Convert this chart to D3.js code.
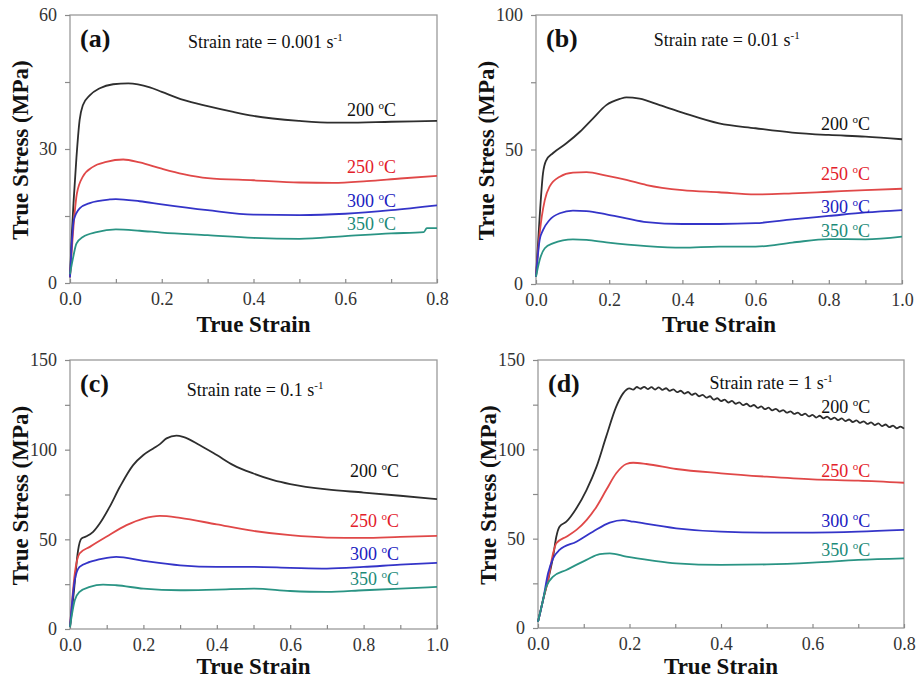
<!DOCTYPE html>
<html><head><meta charset="utf-8">
<script src="https://cdn.jsdelivr.net/npm/d3@7"></script>
<style>body{margin:0;background:#fff}svg{display:block}</style>
</head><body>
<script>
// ---------- DATA ----------
const temps = ["200", "250", "300", "350"];
const panelLetters = ["(a)", "(b)", "(c)", "(d)"];
const rateLabels = ["0.001", "0.01", "0.1", "1"];
const xMax = [0.8, 1.0, 1.0, 0.8];
const yMax = [60, 100, 150, 150];
const yMinorStep = [15, 25, 25, 25];
const yLabelStep = [30, 50, 50, 50];

const a200 = [[0,1.3],[0.004,11],[0.008,18.5],[0.014,28],[0.021,36.5],[0.028,39.8],[0.043,42],[0.065,43.6],[0.094,44.5],[0.127,44.7],[0.174,43.8],[0.2,42.8],[0.247,41],[0.3,39.6],[0.356,38.3],[0.4,37.4],[0.5,36.3],[0.574,35.9],[0.6,35.9],[0.7,36.1],[0.8,36.3]];
const a250 = [[0,1.3],[0.005,9],[0.01,15.5],[0.015,20],[0.028,23.8],[0.05,26],[0.079,27.1],[0.116,27.65],[0.152,27],[0.2,25.6],[0.247,24.4],[0.3,23.5],[0.4,23],[0.5,22.5],[0.574,22.4],[0.647,22.8],[0.72,23.4],[0.8,24]];
const a300 = [[0,1.3],[0.004,9],[0.008,14],[0.021,16.7],[0.043,17.9],[0.087,18.7],[0.1,18.8],[0.152,18.3],[0.2,17.6],[0.3,16.3],[0.4,15.3],[0.5,15.2],[0.6,15.5],[0.7,16.3],[0.8,17.4]];
const a350 = [[0,2.0],[0.007,5.8],[0.014,8.8],[0.028,10.3],[0.058,11.4],[0.1,12],[0.152,11.7],[0.2,11.3],[0.3,10.7],[0.4,10.1],[0.5,9.9],[0.6,10.5],[0.7,11.1],[0.771,11.4],[0.778,12.3],[0.8,12.3]];

const b200 = [[0,2.7],[0.01,25],[0.019,41],[0.028,46],[0.046,48.6],[0.083,52.3],[0.12,56.6],[0.156,61.6],[0.192,66.5],[0.229,68.8],[0.247,69.4],[0.283,68.9],[0.338,66.5],[0.4,63.7],[0.5,59.7],[0.6,57.9],[0.7,56.3],[0.8,55.4],[0.9,54.8],[1.0,53.8]];
const b250 = [[0,2.7],[0.01,18.8],[0.024,31.2],[0.037,36.2],[0.065,39.9],[0.101,41.4],[0.138,41.6],[0.192,40.3],[0.247,38.7],[0.302,36.8],[0.4,34.9],[0.5,34.1],[0.6,33.3],[0.7,33.7],[0.8,34.3],[0.9,34.9],[1.0,35.4]];
const b300 = [[0,2.7],[0.01,16.4],[0.019,20],[0.037,23.8],[0.065,26.3],[0.101,27.3],[0.138,27.1],[0.192,25.9],[0.247,24.4],[0.302,23],[0.4,22.3],[0.5,22.3],[0.6,22.6],[0.7,24],[0.8,25.3],[0.9,26.6],[1.0,27.5]];
const b350 = [[0,2.7],[0.01,8.9],[0.024,13.3],[0.046,15.1],[0.101,16.6],[0.138,16.4],[0.192,15.5],[0.302,14.1],[0.4,13.5],[0.5,13.9],[0.6,13.9],[0.7,15.4],[0.8,16.7],[0.9,16.6],[1.0,17.6]];

const c200 = [[0,1.1],[0.01,19.7],[0.022,43.9],[0.031,50.4],[0.045,51.7],[0.063,54.2],[0.081,58.8],[0.108,68.1],[0.136,79.3],[0.172,91.4],[0.2,97],[0.227,100.7],[0.245,103.1],[0.263,106.3],[0.29,107.8],[0.308,107.2],[0.354,102.5],[0.4,97],[0.445,91.4],[0.5,86.7],[0.554,83],[0.6,80.8],[0.7,77.8],[0.8,76.1],[0.9,74.3],[1.0,72.4]];
const c250 = [[0,1.1],[0.013,30.9],[0.026,42.1],[0.054,45.8],[0.099,51.4],[0.154,57.9],[0.2,61.6],[0.245,63.1],[0.3,62],[0.4,58.3],[0.5,54.7],[0.6,52.3],[0.7,51],[0.8,50.8],[0.9,51.4],[1.0,51.9]];
const c300 = [[0,1.1],[0.013,27.2],[0.026,34.6],[0.054,37.4],[0.09,39.3],[0.126,40.2],[0.2,38],[0.3,35.5],[0.4,34.6],[0.5,34.6],[0.6,34.1],[0.7,33.7],[0.8,34.6],[0.9,35.9],[1.0,36.9]];
const c350 = [[0,1.1],[0.013,16],[0.026,20.7],[0.054,23.5],[0.09,24.8],[0.126,24.4],[0.2,22.5],[0.3,21.6],[0.4,22],[0.5,22.5],[0.6,21.2],[0.7,20.7],[0.8,21.6],[0.9,22.5],[1.0,23.5]];

const d200 = [[0,3.5],[0.011,15.7],[0.022,26.9],[0.033,39.9],[0.04,51.1],[0.047,56.7],[0.062,59.5],[0.084,67],[0.106,77.2],[0.128,90.3],[0.149,107.1],[0.171,123.9],[0.186,131.3],
 [0.200,134.1],[0.208,133.4],[0.216,134.9],[0.224,133.9],[0.232,135.0],[0.240,133.7],[0.248,134.8],[0.256,133.5],[0.264,134.7],[0.272,133.3],[0.280,134.2],[0.288,132.7],[0.296,133.6],[0.304,132.0],[0.312,132.8],[0.320,131.2],[0.328,132.1],[0.336,130.5],[0.344,131.3],[0.352,129.7],[0.360,130.5],[0.368,128.9],[0.376,129.7],[0.384,127.8],[0.392,128.6],[0.400,127.0],[0.408,127.8],[0.416,126.2],[0.424,127.1],[0.432,125.5],[0.440,126.3],[0.448,124.7],[0.456,125.5],[0.464,124.0],[0.472,124.8],[0.480,123.2],[0.488,124.0],[0.496,122.5],[0.504,123.3],[0.512,121.8],[0.520,122.7],[0.528,121.1],[0.536,122.0],[0.544,120.5],[0.552,121.3],[0.560,119.8],[0.568,120.6],[0.576,119.1],[0.584,120.0],[0.592,118.4],[0.600,119.3],[0.608,117.8],[0.616,118.8],[0.624,117.3],[0.632,118.3],[0.640,116.8],[0.648,117.8],[0.656,116.3],[0.664,117.3],[0.672,115.8],[0.680,116.7],[0.688,115.3],[0.696,116.2],[0.704,114.8],[0.712,115.7],[0.720,114.2],[0.728,115.1],[0.736,113.6],[0.744,114.5],[0.752,113.0],[0.760,113.9],[0.768,112.4],[0.776,113.3],[0.784,111.8],[0.792,112.7],[0.800,111.6]];
const d250 = [[0,3.5],[0.011,15.7],[0.022,26.9],[0.033,41.8],[0.04,47.4],[0.062,51.1],[0.084,54.9],[0.106,60.4],[0.128,67.9],[0.149,77.2],[0.171,86.6],[0.193,91.8],[0.208,92.5],[0.237,91.8],[0.302,89],[0.4,86.6],[0.5,84.7],[0.6,83.2],[0.7,82.5],[0.8,81.3]];
const d300 = [[0,3.5],[0.011,15.7],[0.022,30.6],[0.033,39],[0.047,43.7],[0.084,48.3],[0.12,53.9],[0.157,59],[0.186,60.4],[0.208,59.5],[0.302,55.8],[0.4,53.9],[0.5,53.4],[0.6,53.4],[0.7,53.9],[0.8,54.9]];
const d350 = [[0,3.5],[0.011,15.7],[0.018,23.1],[0.033,28.7],[0.062,32.5],[0.106,38.1],[0.135,41.4],[0.157,41.8],[0.193,39.9],[0.251,37.7],[0.302,36.2],[0.4,35.3],[0.5,35.6],[0.6,36.6],[0.7,38.1],[0.8,39]];

// temperature label anchors (strain, stress) per panel
const labelStrain = [0.604, 0.779, 0.763, 0.619];
const labelStress = [[37.4, 24.6, 17.0, 11.9], [57.2, 38.7, 26.4, 17.5], [84.8, 56.9, 38.5, 24.5], [120.3, 84.5, 56.5, 40.3]];
// strain-rate text anchors (strain, stress)
const rateStrain = [0.257, 0.322, 0.318, 0.375];
const rateStress = [52.7, 88.5, 130, 134];

// ---------- STYLE / LAYOUT ----------
const seriesByPanel = [[a200,a250,a300,a350],[b200,b250,b300,b350],[c200,c250,c300,c350],[d200,d250,d300,d350]];
const lineColors = ["#2e2e2e", "#e04848", "#3434c8", "#2a9484"];
const textColors = ["#111111", "#e3202a", "#2020c0", "#1c8a78"];
const boxes = [
  {x0: 70, x1: 437, y0: 15, y1: 283, tY: 332},
  {x0: 536, x1: 902, y0: 15, y1: 284, tY: 332},
  {x0: 70, x1: 437, y0: 360, y1: 629, tY: 674},
  {x0: 538, x1: 904, y0: 360, y1: 628, tY: 674}
];
const serif = "'Liberation Serif','Times New Roman',serif";

const svg = d3.select("body").append("svg").attr("width", 917).attr("height", 681);
svg.append("rect").attr("width", 917).attr("height", 681).attr("fill", "#fff");

boxes.forEach((b, i) => {
  const x = d3.scaleLinear().domain([0, xMax[i]]).range([b.x0, b.x1]);
  const y = d3.scaleLinear().domain([0, yMax[i]]).range([b.y1, b.y0]);
  const g = svg.append("g");

  // frame
  g.append("rect").attr("x", b.x0).attr("y", b.y0).attr("width", b.x1 - b.x0).attr("height", b.y1 - b.y0)
    .attr("fill", "none").attr("stroke", "#9a9a9a").attr("stroke-width", 1.3);

  // x axis
  const xt = d3.range(0, xMax[i] + 1e-9, 0.1);
  const xa = d3.axisBottom(x).tickValues(xt).tickSize(-4).tickPadding(9)
    .tickFormat(d => (Math.round(d * 10) % 2 === 0) ? d3.format(".1f")(d) : "");
  const gx = g.append("g").attr("transform", `translate(0,${b.y1})`).call(xa);
  gx.select(".domain").remove();
  gx.selectAll("line").attr("stroke", "#8a8a8a").attr("stroke-width", 1.2);
  gx.selectAll("text").attr("font-family", serif).attr("font-size", 18).attr("fill", "#333");

  // y axis
  const yt = d3.range(0, yMax[i] + 1e-9, yMinorStep[i]);
  const ya = d3.axisLeft(y).tickValues(yt).tickSize(5).tickPadding(8)
    .tickFormat(d => (d % yLabelStep[i] === 0) ? d : "");
  const gy = g.append("g").attr("transform", `translate(${b.x0},0)`).call(ya);
  gy.select(".domain").remove();
  gy.selectAll("line").attr("stroke", "#8a8a8a").attr("stroke-width", 1.2);
  gy.selectAll("text").attr("font-family", serif).attr("font-size", 18).attr("fill", "#333");

  // curves
  const line = d3.line().x(d => x(d[0])).y(d => y(d[1])).curve(d3.curveMonotoneX);
  seriesByPanel[i].forEach((s, k) => {
    g.append("path").datum(s).attr("d", line).attr("fill", "none")
      .attr("stroke", lineColors[k]).attr("stroke-width", 1.8).attr("stroke-linejoin", "round");
  });

  // temperature labels
  temps.forEach((t, k) => {
    const tx = g.append("text").attr("x", x(labelStrain[i])).attr("y", y(labelStress[i][k]))
      .attr("font-family", serif).attr("font-size", 18).attr("fill", textColors[k]);
    tx.append("tspan").text(t + " ");
    tx.append("tspan").attr("font-size", 11).attr("dy", -7).text("o");
    tx.append("tspan").attr("dy", 7).text("C");
  });

  // panel letter
  g.append("text").attr("x", b.x0 + 10).attr("y", b.y0 + 32)
    .attr("font-family", serif).attr("font-weight", "bold").attr("font-size", 26).attr("fill", "#111")
    .text(panelLetters[i]);

  // strain rate
  const rt = g.append("text").attr("x", x(rateStrain[i])).attr("y", y(rateStress[i]))
    .attr("font-family", serif).attr("font-size", 18).attr("fill", "#111");
  rt.append("tspan").text("Strain rate = " + rateLabels[i] + " s");
  rt.append("tspan").attr("font-size", 11).attr("dy", -7).text("-1");

  // axis titles
  g.append("text").attr("x", (b.x0 + b.x1) / 2).attr("y", b.tY).attr("text-anchor", "middle")
    .attr("font-family", serif).attr("font-weight", "bold").attr("font-size", 23).attr("fill", "#111")
    .text("True Strain");
  g.append("text").attr("transform", `translate(${b.x0 - 42},${(b.y0 + b.y1) / 2 + 1}) rotate(-90)`)
    .attr("text-anchor", "middle")
    .attr("font-family", serif).attr("font-weight", "bold").attr("font-size", 23).attr("fill", "#111")
    .text("True Stress (MPa)");
});
</script>
</body></html>
